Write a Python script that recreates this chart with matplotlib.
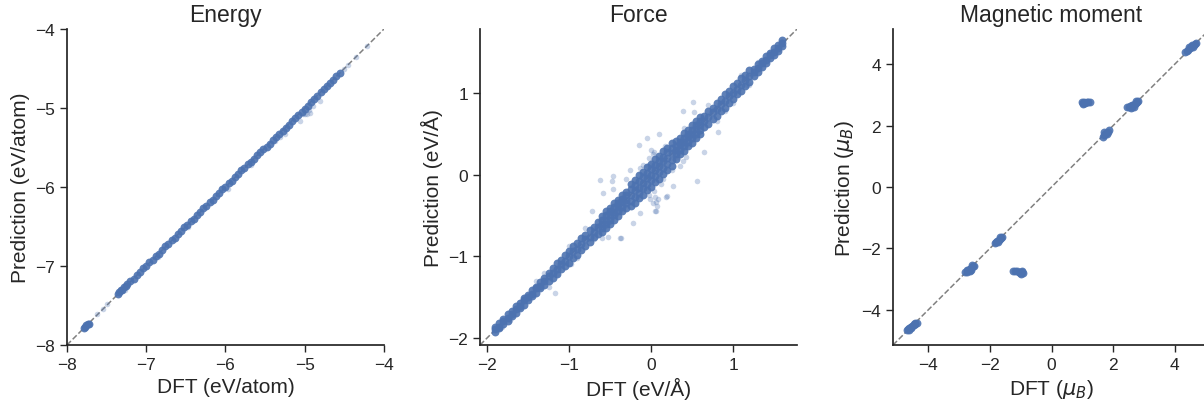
import matplotlib
matplotlib.use("Agg")
import matplotlib.pyplot as plt
import seaborn as sns

# ---- Energy (eV/atom) ----
energy_dft = [
    -7.79, -7.77, -7.76, -7.74, -7.72,
    -7.36, -7.34, -7.32, -7.30, -7.28, -7.26, -7.24,
    -7.20, -7.16, -7.12, -7.08, -7.04, -7.00, -6.96, -6.92, -6.88, -6.84,
    -6.80, -6.76, -6.72, -6.68, -6.64, -6.60, -6.56, -6.52, -6.48, -6.44,
    -6.40, -6.36, -6.32, -6.28, -6.24, -6.20, -6.16, -6.12, -6.08, -6.04,
    -6.00, -5.96, -5.92, -5.88, -5.84, -5.80, -5.76, -5.72, -5.68, -5.64,
    -5.60, -5.56, -5.52, -5.48, -5.44, -5.40, -5.36, -5.32, -5.28, -5.24,
    -5.20, -5.16, -5.12, -5.08, -5.04, -5.00, -4.96, -4.92, -4.88, -4.84,
    -4.80, -4.76, -4.72, -4.68, -4.64, -4.60, -4.56]
energy_pred = [
    -7.78, -7.77, -7.75, -7.74, -7.73,
    -7.35, -7.33, -7.31, -7.30, -7.27, -7.25, -7.23,
    -7.19, -7.16, -7.11, -7.08, -7.03, -7.00, -6.95, -6.92, -6.87, -6.85,
    -6.80, -6.75, -6.72, -6.67, -6.64, -6.59, -6.56, -6.51, -6.48, -6.43,
    -6.40, -6.35, -6.32, -6.27, -6.24, -6.19, -6.16, -6.11, -6.08, -6.03,
    -6.00, -5.95, -5.92, -5.87, -5.84, -5.79, -5.76, -5.71, -5.68, -5.64,
    -5.60, -5.56, -5.52, -5.49, -5.45, -5.41, -5.37, -5.33, -5.29, -5.25,
    -5.21, -5.17, -5.13, -5.09, -5.05, -5.01, -4.97, -4.93, -4.89, -4.85,
    -4.80, -4.76, -4.72, -4.68, -4.64, -4.60, -4.56]
energy_out_dft = [-5.06, -4.97, -4.95, -4.93, -4.81, -4.90, -5.31, -5.25,
                  -5.38, -5.97, -5.68, -6.47, -6.85, -7.27, -5.02, -4.99,
                  -7.62, -7.55, -7.49, -4.50, -4.45, -4.35, -4.22]
energy_out_pred = [-5.16, -5.08, -5.02, -5.06, -4.91, -4.97, -5.37, -5.33,
                   -5.42, -6.03, -5.72, -6.50, -6.88, -7.30, -5.08, -5.07,
                   -7.61, -7.54, -7.48, -4.50, -4.46, -4.35, -4.21]

# ---- Force (eV/Å) ----
force_dft = [
    -1.90, -1.85, -1.80, -1.75, -1.70, -1.65, -1.60, -1.55, -1.50, -1.45,
    -1.40, -1.35, -1.30, -1.25, -1.20, -1.15, -1.10, -1.05, -1.00, -0.95,
    -0.90, -0.85, -0.80, -0.75, -0.70, -0.65, -0.60, -0.55, -0.50, -0.45,
    -0.40, -0.35, -0.30, -0.25, -0.20, -0.15, -0.10, -0.05, 0.00, 0.05,
    0.10, 0.15, 0.20, 0.25, 0.30, 0.35, 0.40, 0.45, 0.50, 0.55,
    0.60, 0.65, 0.70, 0.75, 0.80, 0.85, 0.90, 0.95, 1.00, 1.05,
    1.10, 1.15, 1.20, 1.25, 1.30, 1.35, 1.40, 1.45, 1.50, 1.55,
    1.60]
force_pred_mid = [
    -1.89, -1.86, -1.79, -1.76, -1.70, -1.64, -1.61, -1.54, -1.50, -1.46,
    -1.39, -1.36, -1.30, -1.24, -1.21, -1.15, -1.09, -1.06, -1.00, -0.94,
    -0.91, -0.85, -0.79, -0.76, -0.70, -0.64, -0.61, -0.55, -0.49, -0.46,
    -0.40, -0.34, -0.31, -0.25, -0.19, -0.16, -0.10, -0.04, 0.00, 0.06,
    0.10, 0.16, 0.20, 0.26, 0.30, 0.36, 0.40, 0.46, 0.50, 0.56,
    0.60, 0.66, 0.70, 0.76, 0.80, 0.86, 0.90, 0.96, 1.00, 1.05,
    1.10, 1.16, 1.20, 1.26, 1.30, 1.36, 1.40, 1.46, 1.50, 1.55,
    1.61]
force_pred_lo = [
    -1.93, -1.88, -1.83, -1.79, -1.73, -1.69, -1.63, -1.59, -1.54, -1.49,
    -1.45, -1.39, -1.35, -1.30, -1.27, -1.22, -1.16, -1.12, -1.08, -1.02,
    -0.98, -0.92, -0.88, -0.82, -0.77, -0.73, -0.70, -0.65, -0.61, -0.55,
    -0.51, -0.45, -0.41, -0.39, -0.35, -0.29, -0.25, -0.19, -0.15, -0.09,
    -0.05, 0.01, 0.05, 0.11, 0.19, 0.25, 0.29, 0.35, 0.39, 0.45,
    0.49, 0.58, 0.62, 0.68, 0.72, 0.78, 0.82, 0.88, 0.92, 0.98,
    1.02, 1.08, 1.13, 1.21, 1.25, 1.31, 1.36, 1.42, 1.46, 1.51,
    1.57]
force_pred_hi = [
    -1.87, -1.81, -1.77, -1.71, -1.67, -1.61, -1.57, -1.51, -1.47, -1.41,
    -1.37, -1.31, -1.27, -1.21, -1.14, -1.08, -1.04, -0.98, -0.94, -0.88,
    -0.84, -0.78, -0.74, -0.68, -0.64, -0.58, -0.51, -0.45, -0.41, -0.35,
    -0.31, -0.25, -0.21, -0.11, -0.07, -0.01, 0.03, 0.09, 0.13, 0.19,
    0.23, 0.29, 0.33, 0.39, 0.41, 0.45, 0.51, 0.55, 0.61, 0.65,
    0.71, 0.72, 0.78, 0.82, 0.88, 0.92, 0.98, 1.02, 1.08, 1.12,
    1.18, 1.22, 1.28, 1.29, 1.35, 1.39, 1.45, 1.49, 1.55, 1.59,
    1.64]
# extra density near zero force
force_c_dft = [-0.60, -0.55, -0.50, -0.45, -0.40, -0.35, -0.30, -0.25, -0.20, -0.15,
               -0.10, -0.05, 0.00, 0.05, 0.10, 0.15, 0.20, 0.25, 0.30, 0.35,
               0.40, 0.45, 0.50, 0.55, 0.60]
force_c_lo = [-0.65, -0.60, -0.55, -0.50, -0.45, -0.40, -0.35, -0.32, -0.27, -0.22,
              -0.17, -0.12, -0.07, -0.02, 0.03, 0.08, 0.13, 0.18, 0.25, 0.30,
              0.35, 0.40, 0.45, 0.50, 0.55]
force_c_hi = [-0.55, -0.50, -0.45, -0.40, -0.35, -0.30, -0.25, -0.18, -0.13, -0.08,
              -0.03, 0.02, 0.07, 0.12, 0.17, 0.22, 0.27, 0.32, 0.35, 0.40,
              0.45, 0.50, 0.55, 0.60, 0.65]
force_out_dft = [
    0.51, 0.39, 0.52, -0.05, -0.15, -0.62, -0.58, -0.52, -0.38, -0.72,
    0.56, 0.64, 0.82, -1.17, 0.07, 0.06, 0.19, 0.39, 0.43, 0.17,
    -0.13, -0.26, -0.30, -0.46, 0.33, 1.17, 1.00, 0.80, -1.15, -0.70,
    -1.60, -0.01, 0.00, 0.02, -0.02, 0.04, 0.01, 0.03, 0.05, -0.03,
    0.06, 0.02, 0.08, -0.04, -0.48, -0.46, -0.22, -0.37, 0.05, -0.13,
    0.18, 0.27, 0.10, 0.40, 0.35, -1.00, -0.90, -1.30, -1.25, 1.10,
    1.20, 0.90, 0.70, -0.80, -0.60, -1.40, 1.30, -1.55, -1.72, -1.82,
    1.45, 1.58, -0.98, 0.12, -0.10, 0.15, 0.25]
force_out_pred = [
    0.89, 0.78, 0.77, 0.45, 0.36, -0.07, -0.22, -0.77, -0.78, -0.45,
    -0.08, 0.28, 0.52, -1.45, -0.39, -0.44, -0.26, 0.16, 0.22, 0.35,
    0.08, 0.06, -0.06, -0.18, 0.22, 1.10, 0.87, 0.65, -1.22, -0.79,
    -1.56, -0.30, 0.30, 0.25, 0.20, 0.28, 0.15, -0.20, -0.28, -0.25,
    -0.33, -0.35, -0.30, 0.10, -0.08, -0.02, -0.59, -0.78, -0.45, -0.47,
    -0.28, -0.14, 0.49, 0.57, 0.10, -0.87, -1.02, -1.20, -1.38, 1.22,
    1.10, 0.78, 0.85, -0.65, -0.78, -1.30, 1.38, -1.50, -1.78, -1.86,
    1.50, 1.62, -1.10, -0.12, 0.12, -0.05, 0.05]

# ---- Magnetic moment (mu_B) ----
mag_dft = [
    -4.70, -4.66, -4.62, -4.58, -4.55, -4.52, -4.48, -4.45, -4.42, -4.38, -4.62, -4.55, -4.48,
    -2.80, -2.76, -2.72, -2.68, -2.65, -2.62, -2.58, -2.55, -2.52, -2.75, -2.65, -2.60, -2.57,
    -1.84, -1.80, -1.76, -1.72, -1.68, -1.64, -1.60, -1.75, -1.66,
    -1.25, -1.18, -1.12, -1.05, -1.00, -0.96, -0.93, -0.98, -0.95, -1.02,
    0.98, 1.01, 1.04, 1.07, 1.10, 1.14, 1.20, 1.25, 1.03,
    1.66, 1.70, 1.74, 1.78, 1.82, 1.86, 1.72, 1.80,
    2.45, 2.52, 2.58, 2.62, 2.66, 2.70, 2.74, 2.78, 2.82, 2.60, 2.68, 2.75, 2.56,
    4.35, 4.40, 4.45, 4.50, 4.54, 4.58, 4.62, 4.66, 4.70, 4.48, 4.60, 4.56]
mag_pred = [
    -4.67, -4.63, -4.60, -4.57, -4.55, -4.52, -4.50, -4.47, -4.44, -4.42, -4.65, -4.60, -4.46,
    -2.78, -2.76, -2.72, -2.70, -2.66, -2.64, -2.62, -2.58, -2.56, -2.70, -2.75, -2.70, -2.55,
    -1.84, -1.80, -1.76, -1.72, -1.70, -1.66, -1.62, -1.80, -1.62,
    -2.75, -2.74, -2.73, -2.76, -2.77, -2.78, -2.80, -2.82, -2.75, -2.80,
    2.77, 2.74, 2.76, 2.75, 2.73, 2.76, 2.77, 2.78, 2.72,
    1.64, 1.68, 1.72, 1.76, 1.80, 1.85, 1.78, 1.72,
    2.60, 2.60, 2.58, 2.62, 2.66, 2.70, 2.73, 2.76, 2.80, 2.68, 2.62, 2.82, 2.65,
    4.40, 4.44, 4.48, 4.52, 4.56, 4.60, 4.63, 4.66, 4.70, 4.58, 4.55, 4.62]


def main():
    sns.set_theme(style="ticks")
    plt.rcParams["font.family"] = ["Liberation Sans", "DejaVu Sans"]
    plt.rcParams["axes.edgecolor"] = "#262626"
    plt.rcParams["xtick.color"] = "#262626"
    plt.rcParams["ytick.color"] = "#262626"

    blue = "#4C72B0"
    fig = plt.figure(figsize=(12.04, 4.02), dpi=100)
    w, h, b = 0.2633, 0.786, 0.1393
    ax1 = fig.add_axes([0.0556, b, w, h])
    ax2 = fig.add_axes([0.3987, b, w, h])
    ax3 = fig.add_axes([0.7417, b, w, h])

    core = dict(s=32, color=blue, alpha=0.9, linewidths=0, zorder=3)
    light = dict(s=16, color=blue, alpha=0.3, linewidths=0, zorder=3)

    # energy
    lim = (-8, -4)
    ax1.plot(lim, lim, ls="--", color="gray", lw=1.1, zorder=2)
    ax1.scatter(energy_dft, energy_pred, **core)
    ax1.scatter(energy_out_dft, energy_out_pred, **light)
    ax1.set_xlim(lim)
    ax1.set_ylim(lim)
    ax1.set_xticks([-8, -7, -6, -5, -4])
    ax1.set_yticks([-8, -7, -6, -5, -4])
    ax1.set_title("Energy")
    ax1.set_xlabel("DFT (eV/atom)")
    ax1.set_ylabel("Prediction (eV/atom)")

    # force
    lim = (-2.085, 1.78)
    ax2.plot(lim, lim, ls="--", color="gray", lw=1.1, zorder=2)
    for pred in [force_pred_lo, force_pred_mid, force_pred_hi]:
        ax2.scatter(force_dft, pred, **core)
    ax2.scatter(force_c_dft, force_c_lo, **core)
    ax2.scatter(force_c_dft, force_c_hi, **core)
    ax2.scatter(force_out_dft, force_out_pred, **light)
    ax2.set_xlim(lim)
    ax2.set_ylim(lim)
    ax2.set_xticks([-2, -1, 0, 1])
    ax2.set_yticks([-2, -1, 0, 1])
    ax2.set_title("Force")
    ax2.set_xlabel("DFT (eV/Å)")
    ax2.set_ylabel("Prediction (eV/Å)")

    # magnetic moment
    lim = (-5.15, 5.15)
    ax3.plot(lim, lim, ls="--", color="gray", lw=1.1, zorder=2)
    ax3.scatter(mag_dft, mag_pred, **core)
    ax3.set_xlim(lim)
    ax3.set_ylim(lim)
    ax3.set_xticks([-4, -2, 0, 2, 4])
    ax3.set_yticks([-4, -2, 0, 2, 4])
    ax3.set_title("Magnetic moment")
    ax3.set_xlabel(r"DFT ($\mu_B$)")
    ax3.set_ylabel(r"Prediction ($\mu_B$)")

    for ax in [ax1, ax2, ax3]:
        sns.despine(ax=ax)
        ax.tick_params(labelsize=12.5, length=5, width=1)
        ax.title.set_fontsize(16.5)
        ax.xaxis.label.set_fontsize(15)
        ax.yaxis.label.set_fontsize(15)

    fig.savefig("out.png", dpi=100)


if __name__ == "__main__":
    main()
